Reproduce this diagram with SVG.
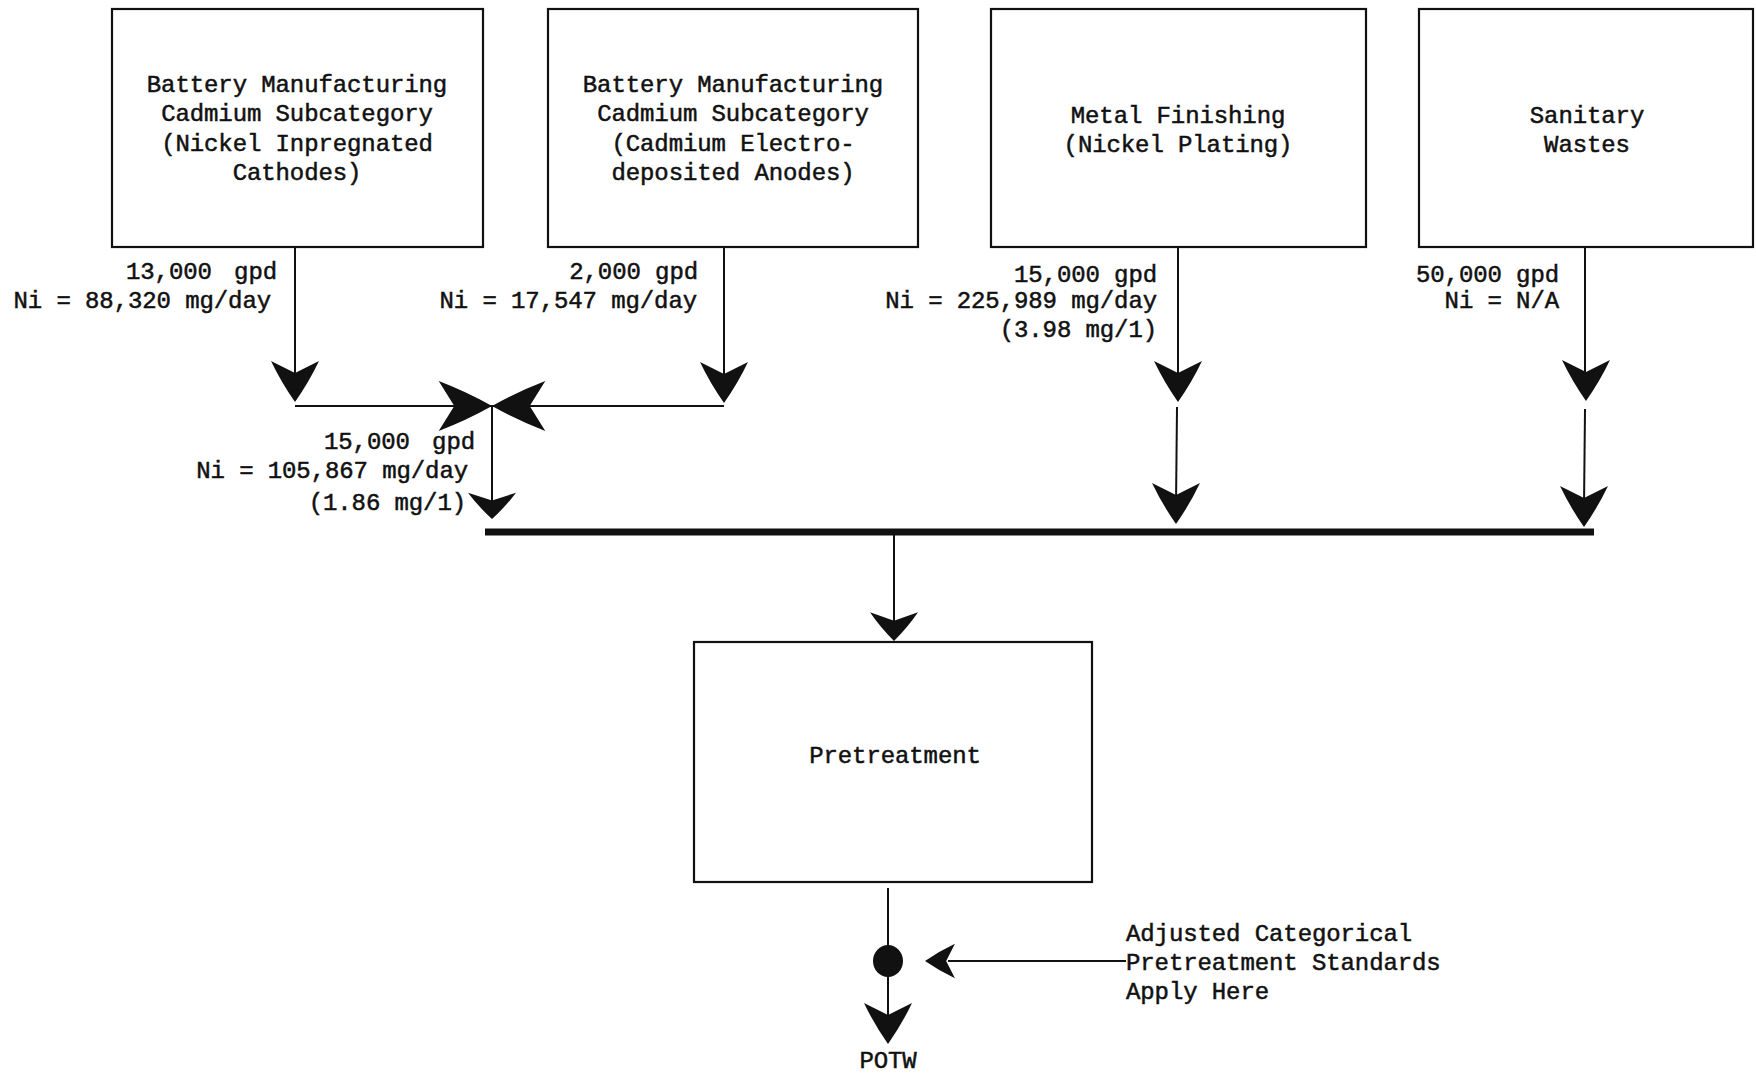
<svg xmlns="http://www.w3.org/2000/svg" width="1756" height="1074" viewBox="0 0 1756 1074">
  <style>
    .box { fill: #fff; stroke: #111; stroke-width: 2.2; }
    .ln { fill: none; stroke: #111; stroke-width: 2; }
    .bus { fill: none; stroke: #111; stroke-width: 7; }
    .t { font-family: "Liberation Mono", "Courier New", monospace; font-size: 24px; letter-spacing: -0.1px; fill: #111; stroke: #111; stroke-width: 0.5; white-space: pre; }
    .c { text-anchor: middle; }
    .r { text-anchor: end; }
    .wide { word-spacing: 8px; }
    .head { fill: #111; }
  </style>
  <defs>
    <!-- barbed arrowhead, tip at the origin, pointing down (+y) -->
    <path id="ah" class="head" d="M0,0 Q-14,-20 -24,-41 L0,-29 L24,-41 Q14,-20 0,0 Z"/>
  </defs>

  <rect width="1756" height="1074" fill="#fff"/>

  <g id="src-cathodes">
    <rect class="box" x="112" y="9" width="371" height="238"/>
    <text class="t c" x="297" y="92">Battery Manufacturing</text>
    <text class="t c" x="297" y="121">Cadmium Subcategory</text>
    <text class="t c" x="297" y="151">(Nickel Inpregnated</text>
    <text class="t c" x="297" y="180">Cathodes)</text>
  </g>

  <g id="src-anodes">
    <rect class="box" x="548" y="9" width="370" height="238"/>
    <text class="t c" x="733" y="92">Battery Manufacturing</text>
    <text class="t c" x="733" y="121">Cadmium Subcategory</text>
    <text class="t c" x="733" y="151">(Cadmium Electro-</text>
    <text class="t c" x="733" y="180">deposited Anodes)</text>
  </g>

  <g id="src-metal-finishing">
    <rect class="box" x="991" y="9" width="375" height="238"/>
    <text class="t c" x="1178" y="123">Metal Finishing</text>
    <text class="t c" x="1178" y="152">(Nickel Plating)</text>
  </g>

  <g id="src-sanitary">
    <rect class="box" x="1419" y="9" width="334" height="238"/>
    <text class="t c" x="1587" y="123">Sanitary</text>
    <text class="t c" x="1587" y="152">Wastes</text>
  </g>

  <g id="pretreatment">
    <rect class="box" x="694" y="642" width="398" height="240"/>
    <text class="t c" x="895" y="763">Pretreatment</text>
  </g>

  <g id="sample-point">
    <ellipse cx="888" cy="961" rx="15" ry="16" fill="#111"/>
  </g>

  <g id="potw">
    <text class="t c" x="888" y="1068">POTW</text>
  </g>

  <g id="standards-note">
    <text class="t" x="1126" y="941">Adjusted Categorical</text>
    <text class="t" x="1126" y="970">Pretreatment Standards</text>
    <text class="t" x="1126" y="999">Apply Here</text>
  </g>

  <g id="flow-labels">
    <text class="t r wide" x="277" y="279">13,000 gpd</text>
    <text class="t r" x="271" y="308">Ni = 88,320 mg/day</text>

    <text class="t r" x="698" y="279">2,000 gpd</text>
    <text class="t r" x="697" y="308">Ni = 17,547 mg/day</text>

    <text class="t r" x="1157" y="282">15,000 gpd</text>
    <text class="t r" x="1157" y="308">Ni = 225,989 mg/day</text>
    <text class="t r" x="1157" y="337">(3.98 mg/1)</text>

    <text class="t r" x="1559" y="282">50,000 gpd</text>
    <text class="t r" x="1559" y="308">Ni = N/A</text>

    <text class="t r wide" x="475" y="449">15,000 gpd</text>
    <text class="t r" x="468" y="478">Ni = 105,867 mg/day</text>
    <text class="t r" x="466" y="510">(1.86 mg/1)</text>
  </g>

  <g id="connectors">
    <!-- battery streams combine -->
    <line class="ln" x1="295" y1="247" x2="295" y2="380"/>
    <use href="#ah" transform="translate(295,402)"/>
    <line class="ln" x1="724" y1="247" x2="724" y2="380"/>
    <use href="#ah" transform="translate(724,403)"/>
    <line class="ln" x1="295" y1="406" x2="724" y2="406"/>
    <use href="#ah" transform="translate(492,406) rotate(-90) scale(1.04,1.3)"/>
    <use href="#ah" transform="translate(492,406) rotate(90) scale(1.04,1.3)"/>
    <line class="ln" x1="492" y1="406" x2="492" y2="505"/>
    <use href="#ah" transform="translate(492,519) scale(1,0.64)"/>

    <!-- metal finishing stream -->
    <line class="ln" x1="1178" y1="247" x2="1178" y2="380"/>
    <use href="#ah" transform="translate(1178,402)"/>
    <line class="ln" x1="1177" y1="407" x2="1176" y2="505"/>
    <use href="#ah" transform="translate(1176,524)"/>

    <!-- sanitary stream -->
    <line class="ln" x1="1585" y1="247" x2="1585" y2="380"/>
    <use href="#ah" transform="translate(1586,401)"/>
    <line class="ln" x1="1585" y1="409" x2="1584" y2="505"/>
    <use href="#ah" transform="translate(1584,527)"/>

    <!-- common header -->
    <line class="bus" x1="485" y1="532" x2="1594" y2="532"/>

    <!-- header to pretreatment -->
    <line class="ln" x1="894" y1="535" x2="894" y2="625"/>
    <use href="#ah" transform="translate(894,641) scale(1,0.7)"/>

    <!-- pretreatment to POTW -->
    <line class="ln" x1="888" y1="888" x2="888" y2="1020"/>
    <use href="#ah" transform="translate(888,1044)"/>

    <!-- standards pointer -->
    <line class="ln" x1="948" y1="961" x2="1126" y2="961"/>
    <use href="#ah" transform="translate(925,961) rotate(90) scale(0.72,0.73)"/>
  </g>
</svg>
